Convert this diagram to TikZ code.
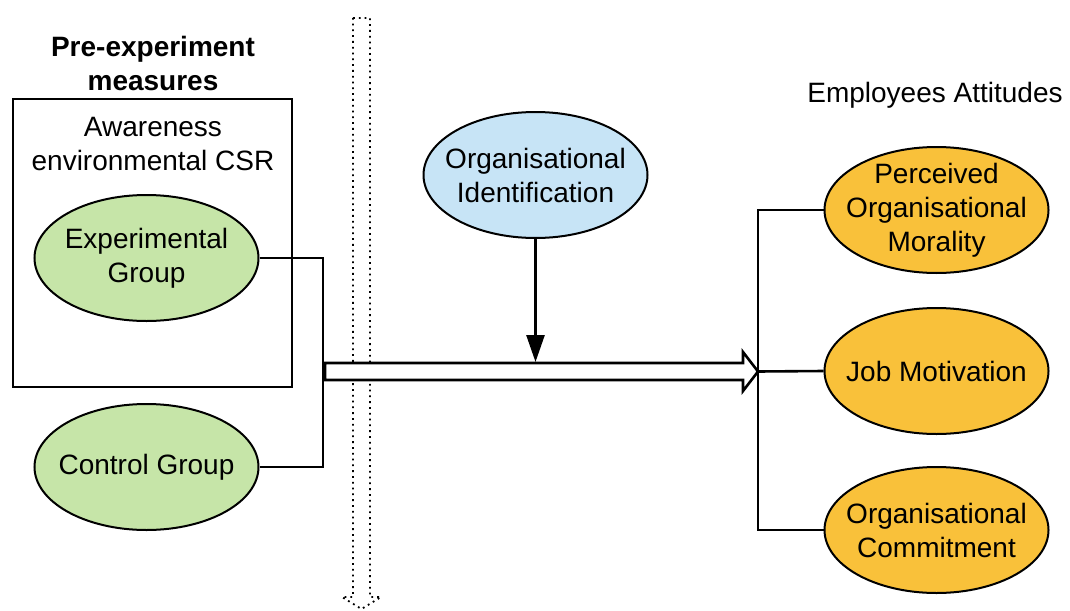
\documentclass[tikz,border=0pt]{standalone}
\usepackage{fontspec}
\setmainfont{Liberation Sans}
\usetikzlibrary{shapes.geometric,arrows.meta}
\definecolor{groupgreen}{HTML}{C6E5A8}
\definecolor{identblue}{HTML}{C7E4F6}
\definecolor{attitudeorange}{HTML}{F9C13A}
\tikzset{
    x=1pt, y=-1pt, >={Triangle[length=27pt,width=18pt]},
    every node/.style={font=\fontsize{28}{34}\selectfont, align=center, inner sep=0pt},
    oval/.style={ellipse, draw=black, line width=2pt, minimum width=224pt, minimum height=126pt,
        inner xsep=-15pt, inner ysep=-10pt},
    group/.style={oval, fill=groupgreen},
    ident/.style={oval, fill=identblue},
    attitude/.style={oval, fill=attitudeorange},
    framebox/.style={draw=black, line width=2.8pt, minimum width=279pt, minimum height=288pt},
    link/.style={draw, line width=2.6pt},
    flow/.style={draw, fill=white, line width=2.6pt, line join=miter},
    phase/.style={draw, line width=1.8pt, dash pattern=on 1.8pt off 4pt}, % time line
}

\begin{document}
\begin{tikzpicture}
    \useasboundingbox (0,0) rectangle (1070,610);

    \draw [phase] (353,18) -- (370,18) -- (370,597) -- (381,597) -- (361.5,609)
        -- (342,597) -- (353,597) -- cycle;

    \node [font=\bfseries\fontsize{28}{34}\selectfont] (pre-title) at (153,63) {Pre-experiment\\measures};
    \node [framebox] (csr-box) at (152.5,243) {};
    \node (csr-label) at (153,144) {Awareness\\environmental CSR};
    \node [group] (exp-group) at (146.5,258) {Experimental\\Group};
    \node [group] (ctrl-group) at (146.5,467) {Control Group};

    \node [ident] (org-ident) at (535.5,175) {Organisational\\Identification};

    \node (att-title) at (935,95) {Employees Attitudes};
    \node [attitude] (pom) at (936.5,210) {Perceived\\Organisational\\Morality};
    \node [attitude] (job-mot) at (936.5,371) {Job Motivation};
    \node [attitude] (org-comm) at (936.5,530) {Organisational\\Commitment};

    \coordinate (join-left) at (323,371.5);
    \coordinate (join-right) at (758,371.5);
    \coordinate (flow-top) at (535.5,362);

    \draw [link] (exp-group.east) -| (join-left) |- (ctrl-group.east);
    \draw [link] (pom.west) -| (join-right) |- (org-comm.west);
    \draw [link] (join-right) -- (job-mot.west);

    \path [flow] (325,363) -- (743,363) -- (743,352) -- (join-right) -- (743,391)
        -- (743,380) -- (325,380) -- cycle;

    \draw [link, ->] (org-ident.south) -- (flow-top);
\end{tikzpicture}
\end{document}
